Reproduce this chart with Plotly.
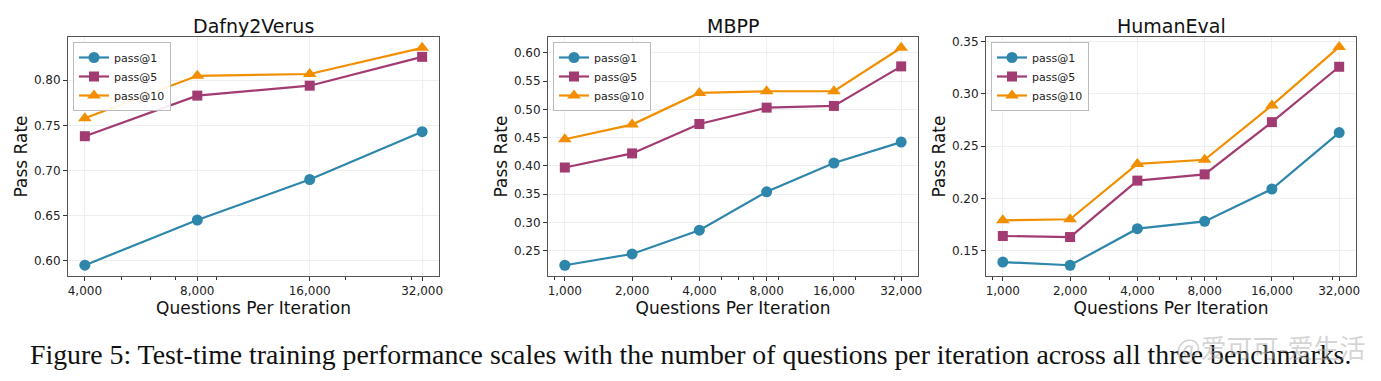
import plotly.graph_objects as go
import math

# ---- data ----
titles = ["Dafny2Verus", "MBPP", "HumanEval"]
series_names = ["pass@1", "pass@5", "pass@10"]

d2v_x = [4000, 8000, 16000, 32000]
d2v_p1 = [0.595, 0.645, 0.690, 0.743]
d2v_p5 = [0.738, 0.783, 0.794, 0.826]
d2v_p10 = [0.758, 0.805, 0.807, 0.836]

mbpp_x = [1000, 2000, 4000, 8000, 16000, 32000]
mbpp_p1 = [0.224, 0.244, 0.286, 0.354, 0.405, 0.442]
mbpp_p5 = [0.397, 0.422, 0.474, 0.503, 0.506, 0.576]
mbpp_p10 = [0.447, 0.473, 0.529, 0.532, 0.532, 0.609]

he_x = [1000, 2000, 4000, 8000, 16000, 32000]
he_p1 = [0.139, 0.136, 0.171, 0.178, 0.209, 0.263]
he_p5 = [0.164, 0.163, 0.217, 0.223, 0.273, 0.326]
he_p10 = [0.179, 0.180, 0.233, 0.237, 0.289, 0.345]

d2v_yticks = [0.60, 0.65, 0.70, 0.75, 0.80]
mbpp_yticks = [0.25, 0.30, 0.35, 0.40, 0.45, 0.50, 0.55, 0.60]
he_yticks = [0.15, 0.20, 0.25, 0.30, 0.35]

caption = "Figure 5: Test-time training performance scales with the number of questions per iteration across all three benchmarks."
watermark = "@爱可可-爱生活"

colors = ["#2E86AB", "#A23B72", "#F18F01"]
symbols = ["circle", "square", "triangle-up"]
msizes = [11, 10, 12]

# page body has an 8px default margin; work in window pixels and convert
OFF = 8
W, H = 1381 - 2 * OFF, 381 - 2 * OFF

def fx(px):
    return (px - OFF) / W

def fy(py):
    return 1 - (py - OFF) / H

panels = [
    dict(x=d2v_x, ys=[d2v_p1, d2v_p5, d2v_p10], yticks=d2v_yticks,
         yr=[0.583, 0.848], px=(68, 439)),
    dict(x=mbpp_x, ys=[mbpp_p1, mbpp_p5, mbpp_p10], yticks=mbpp_yticks,
         yr=[0.205, 0.628], px=(548, 918)),
    dict(x=he_x, ys=[he_p1, he_p5, he_p10], yticks=he_yticks,
         yr=[0.1257, 0.3545], px=(986, 1356)),
]
top_px, bot_px = 37, 276

fig = go.Figure()
font_main = "DejaVu Sans"

def minor_vals(xmin, xmax):
    vals = []
    for dec in [100, 1000, 10000, 100000]:
        for s in range(2, 10):
            v = s * dec
            if xmin * 0.85 <= v <= xmax * 1.15:
                vals.append(v)
    return vals

for i, p in enumerate(panels):
    n = i + 1
    xa = "x" if n == 1 else f"x{n}"
    ya = "y" if n == 1 else f"y{n}"
    leg = "legend" if n == 1 else f"legend{n}"
    for k in range(3):
        fig.add_trace(go.Scatter(
            x=p["x"], y=p["ys"][k], mode="lines+markers", name=series_names[k],
            line=dict(color=colors[k], width=2.2),
            marker=dict(symbol=symbols[k], size=msizes[k], color=colors[k]),
            xaxis=xa, yaxis=ya, legend=leg, showlegend=True,
        ))
    x0, x1 = p["x"][0], p["x"][-1]
    span = math.log10(x1) - math.log10(x0)
    xr = [math.log10(x0) - 0.05 * span, math.log10(x1) + 0.05 * span]
    dom_x = [fx(p["px"][0]), fx(p["px"][1])]
    dom_y = [fy(bot_px), fy(top_px)]
    axis_common = dict(showline=True, mirror=True, linecolor="#555555", linewidth=1,
                       ticks="outside", ticklen=4, tickcolor="#333333",
                       showgrid=True, gridcolor="#EFEFEF", gridwidth=1, automargin=False,
                       zeroline=False, tickfont=dict(family=font_main, size=12, color="#222"))
    xkey = "xaxis" if n == 1 else f"xaxis{n}"
    ykey = "yaxis" if n == 1 else f"yaxis{n}"
    fig.update_layout(**{
        xkey: dict(type="log", range=xr, domain=dom_x, anchor=ya,
                   tickmode="array", tickvals=p["x"],
                   ticktext=[f"{v:,}" for v in p["x"]],
                   minor=dict(tickmode="array", tickvals=minor_vals(x0, x1), ticks="outside",
                              ticklen=2.5, tickcolor="#333333", showgrid=False),
                   title=dict(text="Questions Per Iteration", standoff=2,
                              font=dict(family=font_main, size=17, color="#111")),
                   **axis_common),
        ykey: dict(range=p["yr"], domain=dom_y, anchor=xa,
                   tickmode="array", tickvals=p["yticks"],
                   ticktext=[f"{v:.2f}" for v in p["yticks"]],
                   title=dict(text="Pass Rate", standoff=1,
                              font=dict(family=font_main, size=17, color="#111")),
                   **axis_common),
        leg: dict(x=fx(p["px"][0] + 5), y=fy(top_px + 5), xanchor="left", yanchor="top",
                  xref="paper", yref="paper",
                  bgcolor="rgba(255,255,255,0.9)", bordercolor="#BBBBBB", borderwidth=1,
                  font=dict(family=font_main, size=11, color="#222"),
                  tracegroupgap=0, itemwidth=30),
    })
    fig.add_annotation(text=titles[i], x=(dom_x[0] + dom_x[1]) / 2, y=fy(26),
                       xref="paper", yref="paper", showarrow=False,
                       font=dict(family=font_main, size=19, color="#111"),
                       xanchor="center", yanchor="middle")

fig.add_annotation(text=caption, x=fx(690), y=fy(354), xref="paper", yref="paper",
                   showarrow=False, xanchor="center", yanchor="middle",
                   font=dict(family="Liberation Serif", size=27.8, color="#111"))
fig.add_annotation(text=watermark, x=fx(1368), y=fy(346), xref="paper", yref="paper",
                   showarrow=False, xanchor="right", yanchor="middle",
                   font=dict(family="Noto Sans CJK SC", size=26, color="rgba(170,170,170,0.5)"))

fig.update_layout(width=W, height=H, margin=dict(l=0, r=0, t=0, b=0, autoexpand=False),
                  paper_bgcolor="white", plot_bgcolor="white", showlegend=True)
fig.write_html("out.html")
